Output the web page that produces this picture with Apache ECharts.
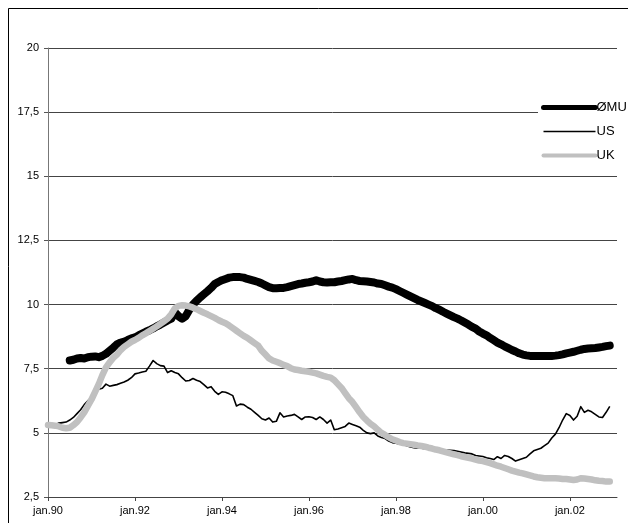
<!DOCTYPE html>
<html>
<head>
<meta charset="utf-8">
<script src="https://cdn.jsdelivr.net/npm/echarts@6/dist/echarts.min.js"></script>
<style>
html,body{margin:0;padding:0;background:#fff;}
#chart{width:628px;height:523px;}
</style>
</head>
<body>
<div id="chart"></div>
<script>
// Month names used for the category axis (only January labels are shown)
const monthNames = ['jan','feb','mar','apr','mai','jun','jul','aug','sep','okt','nov','des'];
const startYear = 1990;
const axisMonths = 158; // jan.90 .. feb.03 (axis extent)

const seriesNames = ['ØMU', 'US', 'UK'];

// ØMU (thick black), monthly from jan.90; starts in jul.90
const emu = [
  null,null,null,null,null,null, 7.82,7.85,7.9,7.92,7.9,7.95,
  7.97,7.98,7.95,8.0,8.08,8.2,8.32,8.45,8.52,8.55,8.62,8.68,
  8.72,8.8,8.87,8.94,9.0,9.07,9.15,9.22,9.3,9.38,9.45,9.7,
  9.55,9.45,9.55,9.8,10.0,10.15,10.28,10.4,10.52,10.65,10.8,10.88,
  10.95,11.0,11.05,11.07,11.07,11.07,11.05,11.0,10.96,10.92,10.88,10.82,
  10.75,10.68,10.64,10.64,10.65,10.65,10.68,10.72,10.76,10.8,10.82,10.85,
  10.87,10.9,10.95,10.9,10.87,10.86,10.87,10.87,10.9,10.92,10.95,10.98,
  11.0,10.95,10.92,10.91,10.9,10.88,10.86,10.82,10.8,10.75,10.7,10.66,
  10.6,10.53,10.46,10.39,10.32,10.25,10.18,10.12,10.06,10.0,9.94,9.86,
  9.8,9.72,9.65,9.58,9.51,9.45,9.38,9.3,9.22,9.13,9.06,8.95,
  8.87,8.8,8.7,8.61,8.52,8.45,8.37,8.3,8.23,8.17,8.1,8.05,
  8.02,8.0,8.0,8.0,8.0,8.0,8.0,8.0,8.01,8.03,8.06,8.1,
  8.13,8.16,8.2,8.24,8.27,8.29,8.3,8.31,8.33,8.35,8.38,8.4
];

// US (thin black)
const us = [
  5.3,5.3,5.32,5.38,5.4,5.42,5.5,5.6,5.75,5.9,6.1,6.25,
  6.4,6.55,6.7,6.74,6.9,6.82,6.85,6.88,6.93,6.98,7.05,7.15,
  7.3,7.33,7.37,7.4,7.6,7.82,7.7,7.62,7.6,7.35,7.42,7.35,
  7.3,7.15,7.02,7.04,7.12,7.05,7.0,6.88,6.75,6.8,6.62,6.5,
  6.6,6.58,6.52,6.45,6.05,6.12,6.1,6.0,5.92,5.8,5.68,5.55,
  5.5,5.58,5.42,5.45,5.78,5.62,5.66,5.68,5.72,5.62,5.52,5.62,
  5.63,5.6,5.52,5.62,5.52,5.38,5.5,5.12,5.15,5.2,5.25,5.38,
  5.33,5.28,5.22,5.1,5.0,4.97,5.0,4.88,4.82,4.78,4.68,4.62,
  4.6,4.57,4.55,4.5,4.45,4.42,4.4,4.4,4.38,4.37,4.36,4.35,
  4.35,4.34,4.33,4.32,4.31,4.28,4.25,4.22,4.2,4.18,4.12,4.1,
  4.08,4.03,4.0,3.96,4.07,4.0,4.12,4.08,4.0,3.9,3.95,4.0,
  4.05,4.18,4.3,4.35,4.4,4.5,4.6,4.8,4.95,5.2,5.5,5.75,
  5.68,5.5,5.65,6.02,5.8,5.88,5.82,5.72,5.62,5.6,5.8,6.03
];

// UK (thick light grey)
const uk = [
  5.31,5.3,5.28,5.25,5.2,5.18,5.2,5.3,5.42,5.6,5.8,6.05,
  6.3,6.6,6.9,7.25,7.55,7.75,7.92,8.05,8.22,8.35,8.45,8.55,
  8.62,8.7,8.8,8.88,8.97,9.06,9.15,9.25,9.35,9.45,9.62,9.85,
  9.95,9.97,9.96,9.93,9.88,9.82,9.75,9.68,9.62,9.55,9.48,9.4,
  9.33,9.27,9.18,9.08,8.98,8.88,8.78,8.7,8.6,8.5,8.4,8.2,
  8.05,7.9,7.82,7.77,7.72,7.65,7.6,7.52,7.47,7.45,7.42,7.4,
  7.38,7.35,7.32,7.27,7.22,7.18,7.15,7.05,6.9,6.75,6.55,6.35,
  6.2,6.0,5.8,5.62,5.48,5.35,5.25,5.12,5.0,4.92,4.83,4.75,
  4.7,4.64,4.6,4.58,4.56,4.54,4.51,4.49,4.46,4.42,4.39,4.35,
  4.32,4.28,4.24,4.2,4.16,4.13,4.09,4.06,4.03,4.0,3.96,3.92,
  3.9,3.86,3.82,3.77,3.72,3.68,3.63,3.58,3.53,3.49,3.45,3.42,
  3.38,3.34,3.3,3.27,3.25,3.23,3.23,3.23,3.23,3.22,3.2,3.2,
  3.18,3.16,3.18,3.23,3.22,3.2,3.18,3.15,3.13,3.12,3.1,3.1
];

const yMin = 2.5, yMax = 20, yStep = 2.5;

const categories = [];
for (let i = 0; i < axisMonths; i++) {
  const y = startYear + Math.floor(i / 12);
  categories.push(monthNames[i % 12] + '.' + String(y % 100).padStart(2, '0'));
}

const chart = echarts.init(document.getElementById('chart'), null, {renderer: 'canvas'});
const font = '"Liberation Sans", Arial, sans-serif';
const showEvery = (idx) => idx % 24 === 0;
const hiddenSymbol = {opacity: 0};

chart.setOption({
  animation: false,
  backgroundColor: '#fff',
  graphic: [{
    type: 'rect',
    shape: {x: 8.5, y: 8.5, width: 640, height: 540},
    style: {fill: 'none', stroke: '#000', lineWidth: 1},
    silent: true, z: -1
  }],
  grid: {left: 48, right: 11, top: 48, bottom: 26, containLabel: false},
  legend: {
    orient: 'vertical',
    left: 538, top: 99,
    padding: [2, 0, 2, 3],
    backgroundColor: '#fff',
    itemWidth: 52, itemHeight: 14, itemGap: 11,
    textStyle: {fontFamily: font, fontSize: 13, color: '#000', padding: [0,0,0,-4]},
    data: [
      {name: 'ØMU', itemStyle: hiddenSymbol, lineStyle: {width: 5, cap: 'round'}},
      {name: 'US', itemStyle: hiddenSymbol, lineStyle: {width: 1.5}},
      {name: 'UK', itemStyle: hiddenSymbol, lineStyle: {width: 4, cap: 'round'}}
    ]
  },
  xAxis: {
    type: 'category',
    data: categories,
    boundaryGap: false,
    axisLine: {lineStyle: {color: '#444', width: 1}},
    axisTick: {show: true, interval: (i) => showEvery(i), length: 4, lineStyle: {color: '#444'}},
    axisLabel: {interval: (i) => showEvery(i), margin: 8, fontFamily: font, fontSize: 11, color: '#000'},
    splitLine: {show: false}
  },
  yAxis: {
    type: 'value',
    min: yMin, max: yMax, interval: yStep,
    axisLine: {show: true, lineStyle: {color: '#777', width: 1}},
    axisTick: {show: true, length: 4, lineStyle: {color: '#555'}},
    axisLabel: {margin: 9, fontFamily: font, fontSize: 11, color: '#000',
      formatter: (v) => String(v).replace('.', ',')},
    splitLine: {show: true, lineStyle: {color: '#444', width: 1}}
  },
  series: [
    {name: seriesNames[0], type: 'line', data: emu, showSymbol: false, symbol: 'none',
      lineStyle: {color: '#000', width: 8, cap: 'round', join: 'round'}, itemStyle: {color: '#000'}, z: 2},
    {name: seriesNames[1], type: 'line', data: us, showSymbol: false, symbol: 'none',
      lineStyle: {color: '#000', width: 1.6, join: 'round'}, itemStyle: {color: '#000'}, z: 3},
    {name: seriesNames[2], type: 'line', data: uk, showSymbol: false, symbol: 'none',
      lineStyle: {color: '#c0c0c0', width: 6.5, cap: 'round', join: 'round'}, itemStyle: {color: '#c0c0c0'}, z: 4}
  ]
});
</script>
</body>
</html>
